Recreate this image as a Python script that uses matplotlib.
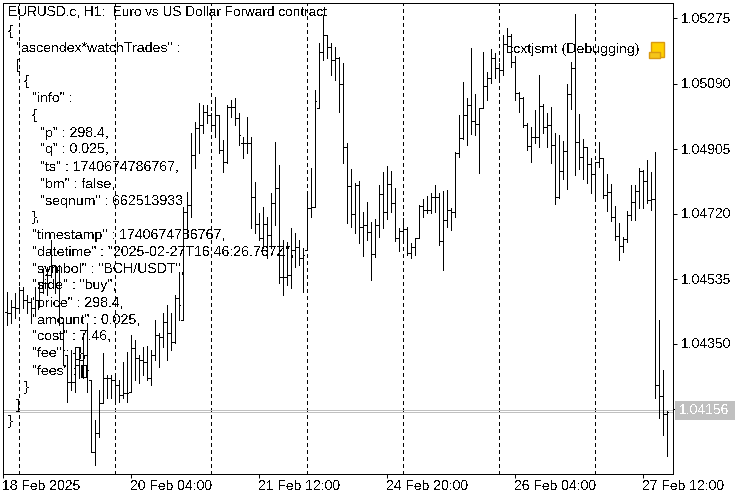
import numpy as np
import matplotlib
matplotlib.use("Agg")
import matplotlib.pyplot as plt
from matplotlib.patches import Rectangle

plt.rcParams['font.family'] = ['Liberation Sans', 'DejaVu Sans']
plt.rcParams['text.antialiased'] = False
plt.rcParams['text.hinting'] = 'native'

# prices in points (1e-5), one value per H1 bar
highs = [104496,104473,104493,104510,104510,104487,104479,104510,104521,104564,104567,104644,104573,104573,104422,
         104316,104331,104322,104339,104379,104408,104245,104132,104217,104322,104259,104259,104259,104245,104297,
         104325,104373,104359,104316,104339,104342,104331,104416,104379,104436,104459,104436,104487,104553,104738,
         104781,104948,104980,105034,105028,105028,105005,105051,104999,104928,105028,105042,105048,105005,104937,
         104994,104937,104809,104721,104738,104709,104778,104923,104857,104644,104638,104678,104664,104644,104621,
         104772,104849,105071,105205,105284,105227,105205,105193,105165,105148,104920,104846,104806,104812,104724,
         104752,104695,104704,104800,104837,104855,104840,104792,104678,104707,104681,104635,104650,104744,104761,
         104769,104778,104800,104778,104783,104786,104735,104894,104999,105094,105048,105190,105059,105019,105179,
         105122,105188,105176,105148,105227,105247,105230,105168,105065,105051,104977,104966,105014,105114,105031,
         105005,105022,104948,104943,104926,105088,105151,105287,105002,104931,104909,104877,104866,104923,104877,
         104832,104803,104741,104692,104652,104727,104800,104800,104849,104843,104872,104837,104894,104416,104274,
         104158]
lows = [104402,104408,104422,104445,104450,104436,104408,104436,104453,104493,104487,104539,104493,104402,104288,
        104183,104217,104211,104251,104251,104211,104040,104004,104084,104180,104194,104194,104189,104183,104194,
        104183,104211,104245,104237,104259,104245,104231,104302,104282,104339,104302,104331,104351,104416,104416,
        104652,104709,104849,104891,104948,104977,104966,104937,104891,104837,104863,104994,104971,104914,104877,
        104891,104678,104664,104644,104621,104593,104621,104687,104521,104487,104516,104507,104567,104573,104496,
        104615,104709,104738,105019,105156,105162,105114,105099,105008,104863,104692,104681,104664,104635,104598,
        104644,104530,104596,104652,104678,104704,104724,104641,104613,104635,104601,104593,104601,104650,104709,
        104721,104721,104724,104630,104558,104681,104672,104709,104880,104931,104914,104946,104943,104835,105019,
        105042,105091,105105,105105,105114,105179,105136,105042,105008,104966,104900,104866,104920,104909,104948,
        104909,104863,104746,104763,104818,104789,105017,104829,104846,104818,104806,104778,104761,104852,104763,
        104727,104698,104644,104587,104610,104638,104701,104701,104735,104735,104749,104729,104194,104138,104089,
        104030]
closes = [104436,104453,104450,104502,104473,104467,104450,104473,104496,104521,104544,104573,104558,104516,104331,
          104240,104240,104288,104302,104316,104274,104040,104095,104180,104251,104251,104245,104231,104203,104209,
          104209,104336,104308,104302,104297,104251,104316,104373,104368,104410,104379,104353,104479,104459,104724,
          104744,104886,104963,104971,105008,104999,104971,104999,104900,104866,105022,105022,104991,104943,104920,
          104920,104766,104689,104650,104689,104658,104749,104792,104539,104539,104544,104615,104624,104593,104601,
          104735,104738,105039,105179,105227,105193,105156,105162,105088,104909,104798,104718,104800,104681,104687,
          104667,104604,104687,104775,104724,104803,104749,104650,104670,104675,104607,104624,104650,104741,104729,
          104729,104766,104766,104641,104701,104729,104724,104891,104934,104999,105028,104983,104974,105019,105082,
          105105,105162,105133,105128,105202,105225,105151,105062,105048,104971,104911,104937,104937,105025,104966,
          104971,104914,104766,104840,104897,105059,105133,104923,104880,104909,104860,104832,104866,104877,104772,
          104781,104709,104655,104627,104647,104715,104752,104783,104840,104812,104758,104761,104231,104200,104149,
          104156]
opens = [104440,104436,104453,104450,104502,104473,104467,104450,104473,104496,104521,104544,104573,104558,104422,
         104316,104240,104240,104288,104302,104316,104245,104040,104095,104180,104251,104251,104245,104231,104203,
         104209,104209,104336,104308,104302,104297,104251,104316,104373,104368,104410,104379,104353,104479,104416,
         104724,104744,104886,104963,104971,105008,104999,104971,104999,104900,104866,105022,105022,104991,104920,
         104920,104920,104766,104689,104650,104689,104658,104749,104792,104539,104539,104544,104615,104624,104593,
         104615,104735,104738,105019,105179,105227,105193,105156,105162,105088,104909,104798,104718,104800,104681,
         104687,104667,104604,104687,104775,104724,104803,104749,104650,104670,104675,104607,104624,104650,104741,
         104729,104729,104766,104766,104641,104701,104729,104724,104891,104934,104999,105028,104983,104974,105019,
         105082,105105,105162,105133,105128,105202,105225,105151,105062,105048,104971,104911,104937,104937,105025,
         104966,104971,104914,104766,104840,104897,105059,105133,104923,104880,104909,104860,104832,104866,104877,
         104772,104781,104709,104655,104627,104647,104715,104752,104783,104840,104812,104758,104761,104231,104200,
         104149]

price_ticks = [1.05275, 1.05090, 1.04905, 1.04720, 1.04535, 1.04350]
bid = 1.04156
ask = 1.04162
separators = [3, 27, 51, 75, 99, 123, 147]
date_pos = [-1, 31, 63, 95, 127, 159]
date_labels = ["18 Feb 2025", "20 Feb 04:00", "21 Feb 12:00", "24 Feb 20:00", "26 Feb 04:00", "27 Feb 12:00"]

title = "EURUSD.c, H1:  Euro vs US Dollar Forward contract"
ea_name = "ccxtjsmt (Debugging)"
comment_levels = [0, 1, 1, 2, 3, 3, 4, 4, 4, 4, 4, 3, 3, 3, 3, 3, 3, 3, 3, 3, 3, 2, 1, 0]
comment_lines = ['{', '"ascendex*watchTrades" :', '[', '{', '"info" :', '{',
                 '"p" : 298.4,', '"q" : 0.025,', '"ts" : 1740674786767,', '"bm" : false,',
                 '"seqnum" : 662513933', '},', '"timestamp" : 1740674786767,',
                 '"datetime" : "2025-02-27T16:46:26.767Z",', '"symbol" : "BCH/USDT",',
                 '"side" : "buy",', '"price" : 298.4,', '"amount" : 0.025,', '"cost" : 7.46,',
                 '"fee" : {},', '"fees" : []', '}', ']', '}']

H = np.array(highs) / 1e5
L = np.array(lows) / 1e5
C = np.array(closes) / 1e5
O = np.clip(np.array(opens) / 1e5, L, H)
idx = np.arange(len(H))

W, HT = 750, 500
FS = 10

fig = plt.figure(figsize=(W / 100, HT / 100), dpi=100, facecolor='white')
ax = fig.add_axes([2.5 / W, (HT - 473.5) / HT, 670 / W, 471 / HT])
ax.set_xlim(-1, 166.5)
per_px = 0.00185 / 65
ax.set_ylim(1.05275 - 455 * per_px, 1.05275 + 16 * per_px)

# period separators
for s in separators:
    ax.axvline(s, color='black', lw=0.72, dashes=(4, 3), dash_capstyle='butt', antialiased=False, zorder=1)
# bid / ask
ax.axhline(bid, color='#c0c0c0', lw=0.72, antialiased=False, zorder=1)
ax.axhline(ask, color='#c0c0c0', lw=0.72, antialiased=False, zorder=1)

# OHLC bars
ax.vlines(idx, L, H, colors='black', lw=0.72, antialiased=False, zorder=2)
ax.hlines(O, idx - 0.375, idx, colors='black', lw=0.72, antialiased=False, zorder=2)
ax.hlines(C, idx, idx + 0.375, colors='black', lw=0.72, antialiased=False, zorder=2)

ax.yaxis.tick_right()
ax.set_yticks(price_ticks + [1.04165], [f"{p:.5f}" for p in price_ticks] + [""])
ax.set_xticks(date_pos, date_labels)
for lab in ax.get_xticklabels():
    lab.set_ha('left')
ax.tick_params(axis='both', direction='out', length=3, width=0.72, labelsize=FS, pad=3, color='black')
ax.tick_params(axis='x', pad=2)
for s in ax.spines.values():
    s.set_linewidth(0.72)
    s.set_antialiased(False)


def put(x, y, s, size=FS, **kw):
    return fig.text(x / W, 1 - y / HT, s, fontsize=size, va='center', ha='left', color='black', **kw)


put(8, 13, title, size=9.8)
for i, (lev, line) in enumerate(zip(comment_levels, comment_lines)):
    put(8 + 8 * lev, 31 + 17 * i, line, size=10.2)
put(506, 50, ea_name, size=10.3)

# current price label
fig.add_artist(Rectangle((675 / W, 1 - 420 / HT), 60 / W, 19 / HT, transform=fig.transFigure,
                         facecolor='#c0c0c0', edgecolor='none', antialiased=False))
put(679, 411, f"{bid:.5f}", zorder=5).set_color('white')

# expert icon
fig.add_artist(Rectangle((651 / W, 1 - 57 / HT), 13 / W, 15 / HT, transform=fig.transFigure,
                         facecolor='#ffd000', edgecolor='#d99a10', lw=1))
fig.add_artist(Rectangle((648.5 / W, 1 - 57.5 / HT), 11 / W, 5 / HT, transform=fig.transFigure,
                         facecolor='#f5c518', edgecolor='#d99a10', lw=1))

fig.savefig("out.png", dpi=100)
